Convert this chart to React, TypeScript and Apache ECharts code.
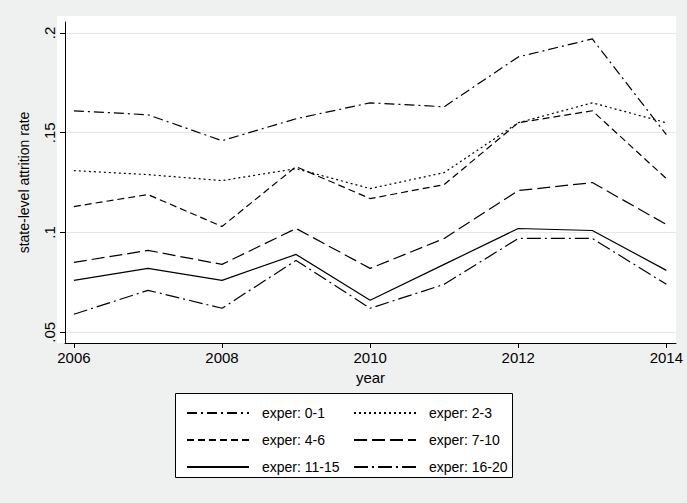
import { useEffect, useRef } from "react";
import * as echarts from "echarts";

const years = [2006, 2007, 2008, 2009, 2010, 2011, 2012, 2013, 2014];
const yTicks = [0.05, 0.1, 0.15, 0.2];
const yTickLabels = [".05", ".1", ".15", ".2"];
const xTicks = [2006, 2008, 2010, 2012, 2014];

const exper01 = [0.161, 0.159, 0.146, 0.157, 0.165, 0.163, 0.188, 0.197, 0.149];
const exper23 = [0.131, 0.129, 0.126, 0.132, 0.122, 0.13, 0.155, 0.165, 0.155];
const exper46 = [0.113, 0.119, 0.103, 0.133, 0.117, 0.124, 0.155, 0.161, 0.127];
const exper710 = [0.085, 0.091, 0.084, 0.102, 0.082, 0.097, 0.121, 0.125, 0.104];
const exper1115 = [0.076, 0.082, 0.076, 0.089, 0.066, 0.084, 0.102, 0.101, 0.081];
const exper1620 = [0.059, 0.071, 0.062, 0.086, 0.062, 0.074, 0.097, 0.097, 0.074];

const seriesDefs = [
  { name: "exper: 0-1", data: exper01, dash: [10, 4, 2, 4] },
  { name: "exper: 2-3", data: exper23, dash: [2, 3] },
  { name: "exper: 4-6", data: exper46, dash: [7, 4] },
  { name: "exper: 7-10", data: exper710, dash: [13, 5] },
  { name: "exper: 11-15", data: exper1115, dash: "solid" },
  { name: "exper: 16-20", data: exper1620, dash: [14, 4, 2, 4] },
];

const font = "Liberation Sans, Arial, sans-serif";

const App = () => {
  const chartRef = useRef(null);

  useEffect(() => {
    let chart: echarts.ECharts | null = null;
    if (chartRef.current) {
      chart = echarts.init(chartRef.current, null, { renderer: "svg" });
      const legendCommon = {
        orient: "vertical",
        top: 401,
        itemWidth: 62,
        itemHeight: 10,
        itemGap: 13,
        itemStyle: { opacity: 0 },
        textStyle: { fontFamily: font, fontSize: 14, color: "#000", padding: [0, 0, 0, 8] },
      };
      chart.setOption({
        animation: false,
        backgroundColor: "#eff0f0",
        graphic: [
          { type: "rect", shape: { x: 57, y: 16, width: 619, height: 327 }, style: { fill: "#fff" }, z: -10 },
          { type: "rect", shape: { x: 175.5, y: 393.5, width: 337, height: 84 }, style: { fill: "#fff", stroke: "#000", lineWidth: 1 }, z: -10 },
        ],
        grid: { left: 65, right: 11, top: 22, bottom: 160 },
        xAxis: {
          type: "value",
          min: 2005.88,
          max: 2014.13,
          name: "year",
          nameLocation: "middle",
          nameGap: 27,
          nameTextStyle: { fontFamily: font, fontSize: 15, color: "#000" },
          axisLine: { lineStyle: { color: "#000" } },
          axisTick: { show: true, customValues: xTicks, length: 5, lineStyle: { color: "#000" } },
          axisLabel: {
            customValues: xTicks,
            formatter: (v: number) => String(v),
            fontFamily: font,
            fontSize: 15,
            color: "#000",
            margin: 7,
          },
          splitLine: { show: false },
        },
        yAxis: {
          type: "value",
          min: 0.0446,
          max: 0.2055,
          name: "state-level attrition rate",
          nameLocation: "middle",
          nameGap: 34,
          nameTextStyle: { fontFamily: font, fontSize: 14, color: "#000" },
          axisLine: { show: true, lineStyle: { color: "#000" } },
          axisTick: { show: true, customValues: yTicks, length: 5, lineStyle: { color: "#000" } },
          axisLabel: {
            customValues: yTicks,
            formatter: (v: number) => yTickLabels[yTicks.findIndex((t) => Math.abs(t - v) < 1e-6)] ?? "",
            rotate: 90,
            fontFamily: font,
            fontSize: 15,
            color: "#000",
            margin: 8,
          },
          splitLine: { show: true, lineStyle: { color: "#e6e6e6", width: 1 } },
        },
        legend: [
          { ...legendCommon, left: 181, data: ["exper: 0-1", "exper: 4-6", "exper: 11-15"] },
          { ...legendCommon, left: 348, data: ["exper: 2-3", "exper: 7-10", "exper: 16-20"] },
        ],
        series: seriesDefs.map((s) => ({
          name: s.name,
          type: "line",
          data: s.data.map((v, i) => [years[i], v]),
          showSymbol: false,
          symbol: "none",
          color: "#000",
          lineStyle: { color: "#000", width: 1.2, type: s.dash },
        })),
      });
    }
    return () => {
      chart && chart.dispose();
    };
  }, []);

  return (
    <div
      ref={chartRef}
      style={{ position: "absolute", left: 0, top: 0, width: "687px", height: "503px" }}
    ></div>
  );
};

export default App;
